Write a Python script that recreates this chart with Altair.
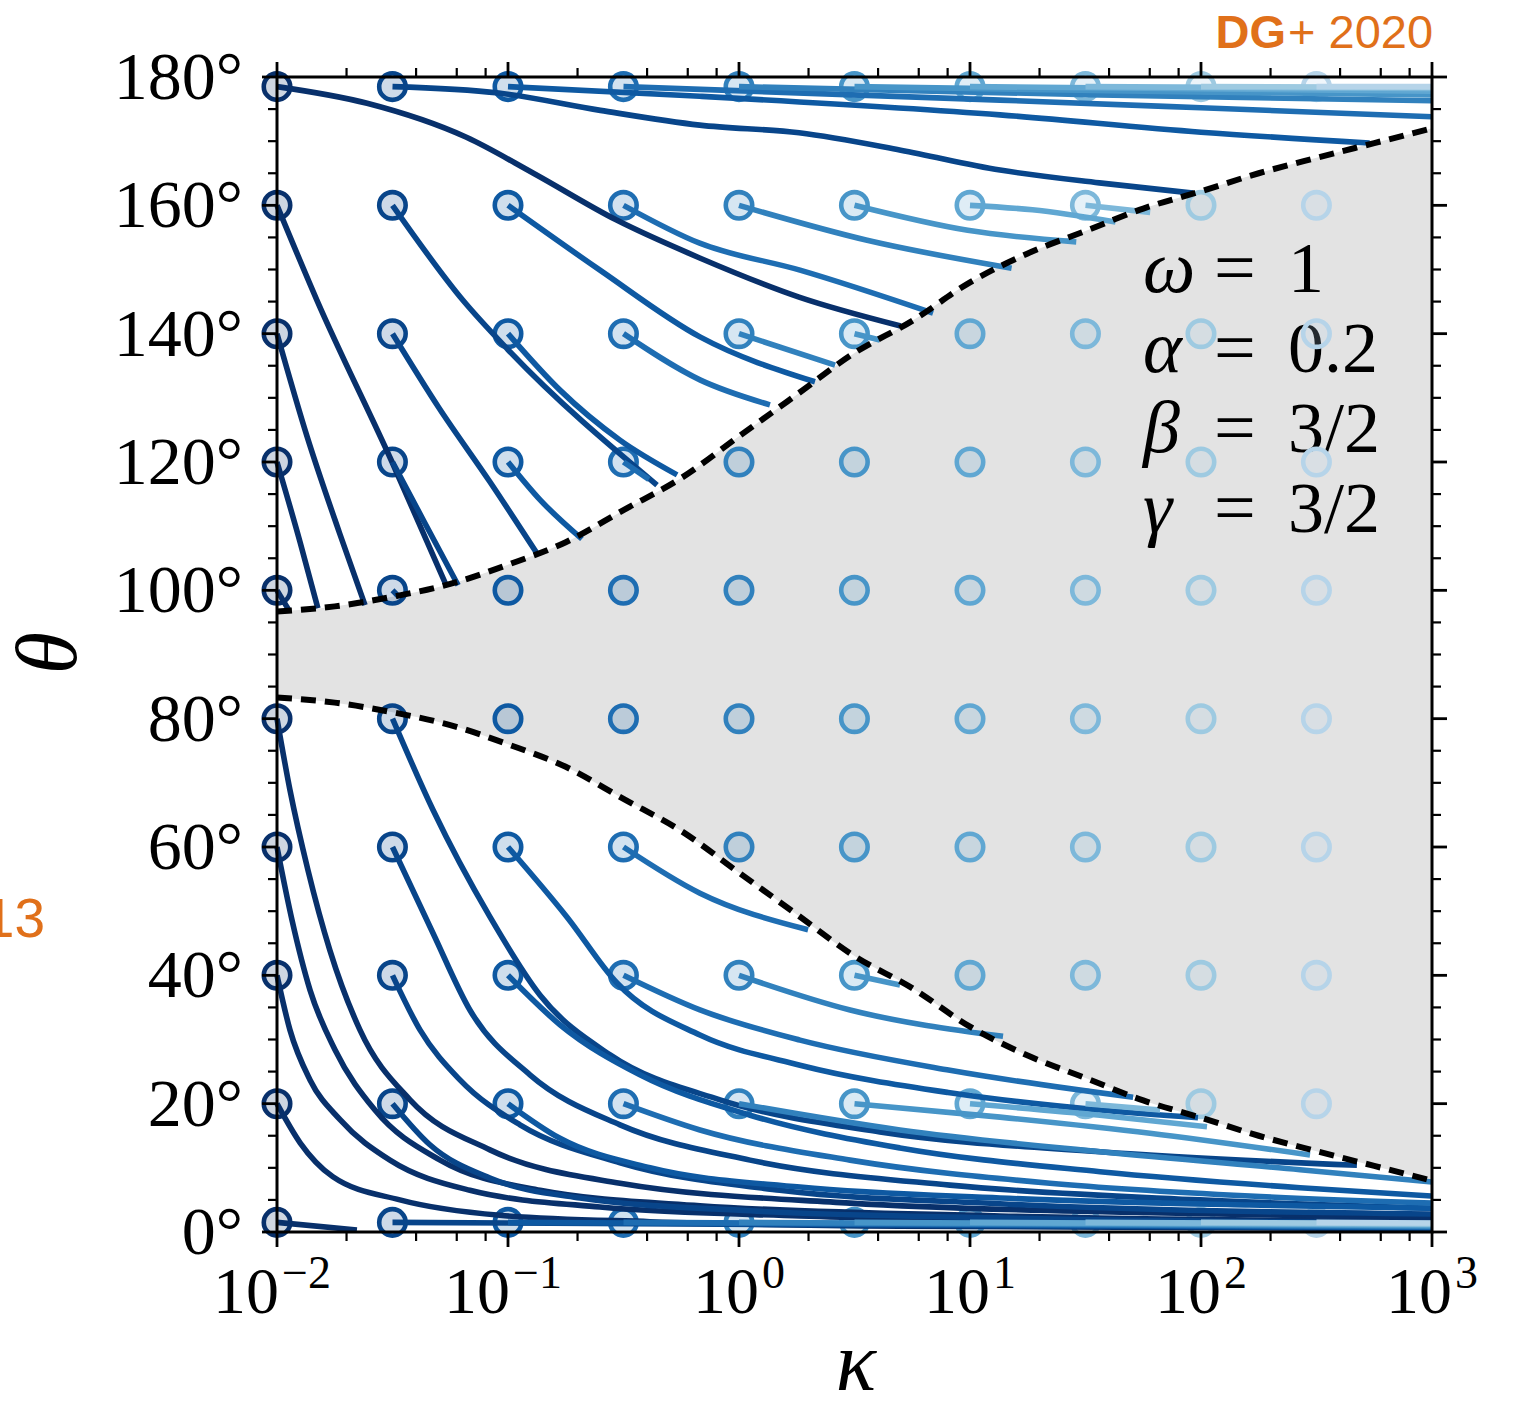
import altair as alt
import pandas as pd

W = H = 1155
SERIF = "Liberation Serif"
ORANGE = "#e0701a"

# ---- data -----------------------------------------------------------------
kappa_grid = [0.01, 0.0316, 0.1, 0.316, 1.0, 3.16, 10.0, 31.6, 100.0, 316.0]
theta_grid = [1.5, 20, 40, 60, 80, 100, 120, 140, 160, 178.5]
col_colors = ["#08306b", "#08458a", "#0e59a2", "#1e6db2", "#3181bd",
              "#4795c8", "#60a7d2", "#7db8da", "#9ecae1", "#b6d4e9"]

# lower edge of the forbidden band (upper edge is its mirror about 90 deg)
bound_logk = [-2, -1.75, -1.5, -1.25, -1, -0.75, -0.5, -0.25, 0, 0.25, 0.5,
              0.75, 1, 1.25, 1.5, 1.75, 2, 2.25, 2.5, 2.75, 3]
bound_lower = [83.3, 82.5, 81, 79, 76, 72.5, 67.5, 62.5, 56, 49.5, 43,
               38, 32, 27.5, 24, 20.5, 17.8, 15, 12.6, 10.3, 8]

# evolution tracks: (starting column, log10 kappa, theta)
tracks_top = [
    (0, [-2, -1.61, -1.18, -0.89, -0.53, -0.17, 0.26, 0.70],
        [178.5, 175.9, 170.6, 165.0, 157.7, 151.8, 145.7, 141.2]),
    (1, [-1.5, -1.04, -0.6, -0.17, 0.26, 0.70, 1.13, 1.56, 1.965],
        [178.5, 177.5, 174.8, 172.5, 171.3, 168.6, 165.5, 163.5, 161.9]),
    (2, [-1, -0.17, 1.13, 2.0, 2.73], [178.5, 177.0, 174.1, 171.4, 169.7]),
    (3, [-0.5, 1.13, 2.0, 3.0], [178.5, 176.4, 175.2, 173.8]),
    (4, [0, 1.56, 3], [178.5, 177.2, 176.3]),
    (5, [0.5, 1.75, 3], [178.5, 177.8, 177.2]),
    (6, [1, 3], [178.5, 177.8]),
    (7, [1.5, 3], [178.5, 178.2]),
    (8, [2, 3], [178.5, 178.4]),
    (9, [2.5, 3], [178.5, 178.5]),
]
tracks_160 = [
    (0, [-2, -1.827, -1.502, -1.264], [160, 145.2, 120.0, 100.5]),
    (1, [-1.5, -1.195, -1.0, -0.355], [160, 145.2, 137.5, 116.4]),
    (2, [-1, -0.602, -0.169, 0.329], [160, 149.9, 139.5, 132.5]),
    (3, [-0.5, -0.17, 0.264, 0.84], [160, 154.1, 149.9, 143.2]),
    (4, [0, 0.55, 1.18], [160, 154.6, 150.2]),
    (5, [0.5, 0.99, 1.46], [160, 156.1, 154.3]),
    (6, [1, 1.27, 1.63], [160, 159.3, 157.4]),
    (7, [1.5, 1.78], [160, 158.9]),
]
tracks_140 = [
    (0, [-2, -1.87, -1.73, -1.619], [140, 124.0, 109.0, 97.7]),
    (1, [-1.5, -1.3, -1.08, -0.870], [140, 128.5, 117.0, 105.5]),
    (2, [-1, -0.775, -0.515, -0.268], [140, 131.2, 123.4, 118.0]),
    (3, [-0.5, -0.169, 0.134], [140, 132.8, 128.9]),
    (4, [0, 0.416], [140, 135.1]),
    (5, [0.5, 0.61], [140, 139]),
]
tracks_120 = [
    (0, [-2, -1.9, -1.823], [120, 107.5, 97.2]),
    (1, [-1.5, -1.36, -1.216], [120, 110.5, 100.8]),
    (2, [-1, -0.861, -0.680], [120, 114.1, 108.0]),
    (3, [-0.5, -0.39], [120, 117.3]),
]
tracks_100 = [
    (0, [-2, -1.95], [100, 97]),
    (1, [-1.5, -1.47], [100, 98.9]),
]
tracks_80 = [
    (0, [-2, -1.944, -1.866, -1.771, -1.641, -1.424, -1.078, -0.515, 0.481, 1.779, 3.0],
        [80, 68.9, 56.4, 43.9, 31.5, 20.6, 12.8, 7.6, 4.5, 3.0, 2.2]),
    (1, [-1.5, -1.325, -1.078, -0.861, -0.558, -0.082, 0.610, 1.563, 2.675],
        [80, 65.8, 49.1, 36.9, 27.6, 20.6, 15.6, 12.5, 10.4]),
]
tracks_60 = [
    (0, [-2, -1.935, -1.857, -1.749, -1.576, -1.294, -0.861, -0.169, 1.13, 3.0],
        [60, 48.6, 37.7, 28.4, 19.0, 11.2, 6.5, 4.1, 2.5, 1.6]),
    (1, [-1.5, -1.325, -1.165, -0.905, -0.515, 0.048, 0.913, 1.996, 3.0],
        [60, 46.6, 34.6, 24.5, 16.7, 11.2, 7.3, 5.0, 3.7]),
    (2, [-1, -0.745, -0.528, -0.169, 0.264, 0.913, 1.563, 1.987],
        [60, 49.1, 38.8, 30.7, 26.0, 21.7, 19.0, 17.8]),
    (3, [-0.5, -0.169, 0.299], [60, 52.8, 47.1]),
]
tracks_40 = [
    (0, [-2, -1.944, -1.857, -1.727, -1.511, -1.165, -0.602, 0.264, 1.563, 3.0],
        [40, 31.5, 23.7, 17.5, 11.2, 6.5, 3.9, 2.5, 1.7, 1.2]),
    (1, [-1.5, -1.381, -1.208, -0.948, -0.515, 0.177, 1.13, 3.0],
        [40, 31.5, 23.7, 16.7, 10.8, 6.5, 4.4, 2.8]),
    (2, [-1, -0.775, -0.429, 0.048, 0.697, 1.563, 2.429, 3.0],
        [40, 32.3, 24.5, 18.2, 13.1, 9.4, 6.9, 5.6]),
    (3, [-0.5, -0.169, 0.264, 0.913, 1.706], [40, 34.6, 29.9, 25.2, 21.0]),
    (4, [0, 0.481, 1.143], [40, 34.6, 30.5]),
    (5, [0.5, 0.697], [40, 38.5]),
]
tracks_20 = [
    (0, [-2, -1.9, -1.758, -1.468, -1.035, -0.385, 0.697, 3.0],
        [20, 13.9, 8.6, 5.0, 2.6, 1.6, 0.9, 0.5]),
    (1, [-1.5, -1.338, -1.078, -0.688, 0.048, 1.13, 3.0],
        [20, 13.6, 8.4, 5.3, 3.3, 2.2, 1.4]),
    (2, [-1, -0.775, -0.385, 0.264, 1.13, 2.212, 3.0],
        [20, 14.6, 10.0, 7.0, 5.3, 4.2, 3.7]),
    (3, [-0.5, -0.169, 0.481, 1.346, 2.212, 3.0], [20, 15.9, 11.2, 7.6, 5.6, 4.5]),
    (4, [0, 0.697, 1.563, 2.429, 3.0], [20, 15.9, 12.5, 9.7, 7.8]),
    (5, [0.5, 1.13, 1.779, 2.472], [20, 17.9, 15.4, 12.0]),
    (6, [1.0, 1.563, 2.026], [20, 18.2, 16.4]),
    (7, [1.5, 1.823], [20, 19.0]),
]
tracks_bottom = [
    (0, [-2, -1.654], [1.5, 0.3]),
    (1, [-1.5, 3.0], [1.5, 0.6]),
    (2, [-1, 3.0], [1.5, 0.7]),
    (3, [-0.5, 3.0], [1.5, 0.8]),
    (4, [0, 3.0], [1.5, 0.9]),
    (5, [0.5, 3.0], [1.5, 1.0]),
    (6, [1, 3.0], [1.5, 1.1]),
    (7, [1.5, 3.0], [1.5, 1.2]),
    (8, [2, 3.0], [1.5, 1.3]),
    (9, [2.5, 3.0], [1.5, 1.4]),
]

x_major = [0.01, 0.1, 1, 10, 100, 1000]
x_exponents = ["\u22122", "\u22121", "0", "1", "2", "3"]
x_minor = [m * d for d in [0.01, 0.1, 1, 10, 100] for m in (2, 4, 6, 8)]
y_major = list(range(0, 181, 20))
y_labels = [f"{v}\u00b0" for v in y_major]
y_minor = [v for v in range(5, 180, 5) if v % 20]

params = [("\u03c9", "1"), ("\u03b1", "0.2"), ("\u03b2", "3/2"), ("\u03b3", "3/2")]

# ---- frames ---------------------------------------------------------------
all_groups = [tracks_top, tracks_160, tracks_140, tracks_120, tracks_100,
              tracks_80, tracks_60, tracks_40, tracks_20, tracks_bottom]
rows = []
tid = 0
for group in all_groups:
    for col, lk, th in group:
        for i, (a, b) in enumerate(zip(lk, th)):
            rows.append({"id": tid, "col": col, "ord": i, "kappa": 10 ** a,
                         "theta": b, "c": col_colors[col]})
        tid += 1
tracks = pd.DataFrame(rows)

circles = pd.DataFrame([
    {"kappa": k, "theta": t, "c": col_colors[i]}
    for i, k in enumerate(kappa_grid) for t in theta_grid
])

band = pd.DataFrame({
    "kappa": [10 ** v for v in bound_logk],
    "lo": bound_lower,
    "hi": [180 - v for v in bound_lower],
})

xs = alt.Scale(type="log", domain=[0.01, 1000], nice=False)
ys = alt.Scale(domain=[0, 180], nice=False, zero=False)


def X(field):
    return alt.X(field, type="quantitative", scale=xs, axis=None)


def Y(field):
    return alt.Y(field, type="quantitative", scale=ys, axis=None)


# ---- layers ---------------------------------------------------------------
area = alt.Chart(band).mark_area(color="#e3e3e3", interpolate="monotone").encode(
    x=X("kappa"), y=Y("lo"), y2="hi:Q")


def label(text, x, y, **style):
    return alt.Chart(pd.DataFrame({"t": [text]})).mark_text(**style).encode(
        x=alt.value(x), y=alt.value(y), text="t:N")


ann = []
for i, (sym, val) in enumerate(params):
    base = 215 + 80 * i
    ann.append(label(sym, 866, base, font=SERIF, fontStyle="italic", fontSize=74,
                     align="left", baseline="alphabetic", color="black"))
    ann.append(label("=", 937, base, font=SERIF, fontSize=74, align="left",
                     baseline="alphabetic", color="black"))
    ann.append(label(val, 1011, base, font=SERIF, fontSize=72, align="left",
                     baseline="alphabetic", color="black"))

dots = alt.Chart(circles).mark_point(
    shape="circle", filled=True, size=700, strokeWidth=4.6, fillOpacity=0.2,
    strokeOpacity=1).encode(
    x=X("kappa"), y=Y("theta"),
    fill=alt.Fill("c:N", scale=None), stroke=alt.Stroke("c:N", scale=None))

lines = alt.Chart(tracks).mark_line(strokeWidth=5.6, interpolate="monotone",
                                    strokeCap="butt").encode(
    x=X("kappa"), y=Y("theta"), detail="id:N", order="ord:Q",
    color=alt.Color("c:N", scale=None))

dash_style = dict(color="black", strokeWidth=6, strokeDash=[15, 9],
                  interpolate="monotone", strokeCap="butt")
lower_edge = alt.Chart(band).mark_line(**dash_style).encode(x=X("kappa"), y=Y("lo"))
upper_edge = alt.Chart(band).mark_line(**dash_style).encode(x=X("kappa"), y=Y("hi"))


# tick marks on all four sides, pointing outwards
def xticks(vals, y0, y1, w):
    return alt.Chart(pd.DataFrame({"k": vals})).mark_rule(
        color="black", strokeWidth=w).encode(x=X("k"), y=alt.value(y0), y2=alt.value(y1))


def yticks(vals, x0, x1, w):
    return alt.Chart(pd.DataFrame({"t": vals})).mark_rule(
        color="black", strokeWidth=w).encode(y=Y("t"), x=alt.value(x0), x2=alt.value(x1))


ticks = [
    xticks(x_major, 0, -15, 2.8), xticks(x_minor, 0, -9, 2.2),
    xticks(x_major, H, H + 15, 2.8), xticks(x_minor, H, H + 9, 2.2),
    yticks(y_major, 0, -15, 2.8), yticks(y_minor, 0, -9, 2.2),
    yticks(y_major, W, W + 15, 2.8), yticks(y_minor, W, W + 9, 2.2),
]

frame = alt.Chart(pd.DataFrame({"a": [0]})).mark_rect(
    filled=False, stroke="black", strokeWidth=3).encode(
    x=alt.value(0), x2=alt.value(W), y=alt.value(0), y2=alt.value(H))

ylabels = alt.Chart(pd.DataFrame({"t": y_major, "s": y_labels})).mark_text(
    font=SERIF, fontSize=68, align="right", baseline="middle", color="black",
    dy=2).encode(y=Y("t"), x=alt.value(-34), text="s:N")

xl = pd.DataFrame({"k": x_major, "e": x_exponents,
                   "neg": [e.startswith("\u2212") for e in x_exponents]})
xlabels = []
for neg, dx10 in ((True, 2), (False, 20)):
    sub = xl[xl["neg"] == neg]
    xlabels.append(alt.Chart(sub).mark_text(
        font=SERIF, fontSize=66, align="right", baseline="alphabetic", dx=dx10,
        color="black").encode(x=X("k"), y=alt.value(H + 81), text=alt.value("10")))
    xlabels.append(alt.Chart(sub).mark_text(
        font=SERIF, fontSize=46, align="left", baseline="alphabetic", dx=dx10 + 3,
        color="black").encode(x=X("k"), y=alt.value(H + 56), text="e:N"))

titles = [
    label("\u03ba", 579, 1313, font=SERIF, fontStyle="italic", fontSize=84,
          align="center", baseline="alphabetic", color="black"),
    label("\u03b8", -227, 576, font=SERIF, fontStyle="italic", fontSize=86,
          align="center", baseline="middle", angle=270, color="black"),
    label("DG", 1009, -29, font="Liberation Sans", fontWeight="bold", fontSize=47,
          align="right", baseline="alphabetic", color=ORANGE),
    label("+ 2020", 1011, -29, font="Liberation Sans", fontSize=47,
          align="left", baseline="alphabetic", color=ORANGE),
    label("13", -232, 860, font="Liberation Sans", fontSize=55,
          align="right", baseline="alphabetic", color=ORANGE),
]

chart = alt.layer(
    area, *ann, dots, lines, lower_edge, upper_edge, *ticks, frame,
    ylabels, *xlabels, *titles
).properties(
    width=W, height=H,
    autosize=alt.AutoSizeParams(type="none"),
    padding={"left": 277, "top": 77, "right": 82, "bottom": 175},
).configure_view(stroke=None)

chart.save("out.html", embed_options={"renderer": "svg", "actions": False})
